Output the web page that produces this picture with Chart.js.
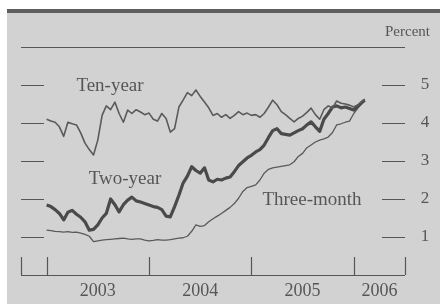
<!DOCTYPE html>
<html>
<head>
<meta charset="utf-8">
<script src="https://cdn.jsdelivr.net/npm/chart.js"></script>
<style>
  html, body { margin: 0; padding: 0; background: #fff; }
  #wrap { position: relative; width: 440px; height: 304px; }
</style>
</head>
<body>
<div id="wrap"><canvas id="rates" width="440" height="304"></canvas></div>
<script>
// half-month dates, as fractional years
const dates = [
  2003.000, 2003.042, 2003.083, 2003.125, 2003.167, 2003.208, 2003.250, 2003.292, 2003.333, 2003.375, 2003.417, 2003.458,
  2003.500, 2003.542, 2003.583, 2003.625, 2003.667, 2003.708, 2003.750, 2003.792, 2003.833, 2003.875, 2003.917, 2003.958,
  2004.000, 2004.042, 2004.083, 2004.125, 2004.167, 2004.208, 2004.250, 2004.292, 2004.333, 2004.375, 2004.417, 2004.458,
  2004.500, 2004.542, 2004.583, 2004.625, 2004.667, 2004.708, 2004.750, 2004.792, 2004.833, 2004.875, 2004.917, 2004.958,
  2005.000, 2005.042, 2005.083, 2005.125, 2005.167, 2005.208, 2005.250, 2005.292, 2005.333, 2005.375, 2005.417, 2005.458,
  2005.500, 2005.542, 2005.583, 2005.625, 2005.667, 2005.708, 2005.750, 2005.792, 2005.833, 2005.875, 2005.917, 2005.958,
  2006.000, 2006.042, 2006.083, 2006.107
];

const tenYear = [
  4.10, 4.05, 4.02, 3.90, 3.65, 4.02, 3.98, 3.95, 3.74, 3.47, 3.30, 3.16,
  3.55, 4.20, 4.45, 4.35, 4.55, 4.25, 4.02, 4.34, 4.25, 4.35, 4.29, 4.22,
  4.26, 4.10, 4.05, 4.25, 4.12, 3.76, 3.85, 4.42, 4.60, 4.80, 4.72, 4.87,
  4.70, 4.55, 4.40, 4.20, 4.25, 4.15, 4.22, 4.12, 4.20, 4.30, 4.22, 4.26,
  4.20, 4.22, 4.15, 4.25, 4.42, 4.60, 4.48, 4.30, 4.22, 4.12, 4.03, 4.12,
  4.18, 4.28, 4.39, 4.22, 4.10, 4.35, 4.45, 4.40, 4.58, 4.52, 4.50, 4.47,
  4.42, 4.48, 4.58, 4.63
];

const twoYear = [
  1.84, 1.80, 1.72, 1.62, 1.45, 1.65, 1.70, 1.60, 1.52, 1.40, 1.18, 1.20,
  1.32, 1.50, 1.62, 2.00, 1.85, 1.66, 1.85, 1.97, 2.05, 1.95, 1.92, 1.88,
  1.84, 1.80, 1.78, 1.72, 1.55, 1.53, 1.80, 2.10, 2.42, 2.60, 2.85, 2.75,
  2.68, 2.82, 2.50, 2.45, 2.52, 2.50, 2.55, 2.58, 2.72, 2.88, 2.98, 3.08,
  3.15, 3.24, 3.30, 3.42, 3.62, 3.80, 3.85, 3.72, 3.70, 3.68, 3.74, 3.80,
  3.85, 3.95, 4.03, 3.90, 3.78, 4.10, 4.25, 4.42, 4.45, 4.40, 4.42, 4.38,
  4.34, 4.45, 4.55, 4.60
];

const threeMonth = [
  1.18, 1.17, 1.15, 1.14, 1.13, 1.14, 1.12, 1.13, 1.10, 1.07, 1.02, 0.88,
  0.90, 0.92, 0.93, 0.94, 0.95, 0.96, 0.97, 0.95, 0.94, 0.95, 0.95, 0.92,
  0.90, 0.91, 0.93, 0.92, 0.92, 0.93, 0.95, 0.97, 0.98, 1.02, 1.15, 1.32,
  1.28, 1.30, 1.40, 1.48, 1.55, 1.62, 1.70, 1.78, 1.88, 2.02, 2.20, 2.30,
  2.33, 2.37, 2.50, 2.68, 2.78, 2.82, 2.84, 2.86, 2.88, 2.90, 2.98, 3.12,
  3.20, 3.35, 3.42, 3.50, 3.55, 3.58, 3.63, 3.75, 3.95, 3.98, 4.02, 4.05,
  4.25, 4.40, 4.52, 4.58
];

const yTicks = [1, 2, 3, 4, 5];
const yearBounds = [2002.75, 2003, 2004, 2005, 2006, 2006.5];
const yearLabels = ['2003', '2004', '2005', '2006'];

const ink = '#565656';
const serif = '"Liberation Serif", "DejaVu Serif", serif';

const toPoints = vals => dates.map((d, i) => ({ x: d, y: vals[i] }));

const framePlugin = {
  id: 'frame',
  beforeDraw(chart) {
    const c = chart.ctx;
    c.save();
    c.fillStyle = '#fff';
    c.fillRect(0, 0, chart.width, chart.height);
    c.fillStyle = '#d2d2d2';
    c.fillRect(7, 9, chart.width - 7, chart.height - 9);
    // dark band at the top
    c.fillStyle = '#5e5e5e';
    c.fillRect(7, 9, chart.width - 7, 4);
    c.restore();
  },
  beforeDatasetsDraw(chart) {
    const c = chart.ctx;
    const xs = chart.scales.x, ys = chart.scales.y;
    const left = xs.getPixelForValue(yearBounds[0]);
    const right = xs.getPixelForValue(yearBounds[yearBounds.length - 1]);
    const bottom = ys.getPixelForValue(0);
    const top = ys.getPixelForValue(6);
    c.save();
    c.strokeStyle = ink;
    c.lineWidth = 1.2;
    c.beginPath();
    c.moveTo(left, Math.round(top) + 0.5);
    c.lineTo(right, Math.round(top) + 0.5);
    c.moveTo(left, Math.round(bottom) + 0.5);
    c.lineTo(right, Math.round(bottom) + 0.5);
    yearBounds.forEach(b => {
      const px = Math.round(xs.getPixelForValue(b)) + 0.5;
      c.moveTo(px, bottom);
      c.lineTo(px, bottom - 18);
    });
    yTicks.forEach(v => {
      const py = Math.round(ys.getPixelForValue(v)) + 0.5;
      c.moveTo(left, py);
      c.lineTo(left + 23, py);
      c.moveTo(right - 23, py);
      c.lineTo(right, py);
    });
    c.stroke();

    c.fillStyle = ink;
    c.textAlign = 'center';
    c.textBaseline = 'middle';
    c.font = '17px ' + serif;
    yTicks.forEach(v => c.fillText(String(v), 425, ys.getPixelForValue(v)));

    c.font = '18px ' + serif;
    yearLabels.forEach((t, i) => {
      const mid = (xs.getPixelForValue(yearBounds[i + 1]) + xs.getPixelForValue(yearBounds[i + 2])) / 2;
      c.fillText(t, mid, 291);
    });

    c.textAlign = 'right';
    c.textBaseline = 'alphabetic';
    c.font = '15px ' + serif;
    c.fillText('Percent', 430, 36);

    c.textAlign = 'center';
    c.font = '19px ' + serif;
    c.fillText('Ten-year', 110, 91);
    c.fillText('Two-year', 125, 184);
    c.fillText('Three-month', 312, 205);
    c.restore();
  }
};

new Chart(document.getElementById('rates'), {
  type: 'line',
  data: {
    datasets: [
      { label: 'Ten-year', data: toPoints(tenYear), borderColor: '#5a5a5a', borderWidth: 1.6 },
      { label: 'Two-year', data: toPoints(twoYear), borderColor: '#4a4a4a', borderWidth: 3.2 },
      { label: 'Three-month', data: toPoints(threeMonth), borderColor: '#5a5a5a', borderWidth: 1.3 }
    ]
  },
  options: {
    responsive: false,
    animation: false,
    layout: { padding: { left: 21, right: 35, top: 47, bottom: 29 } },
    elements: { point: { radius: 0 }, line: { tension: 0, borderJoinStyle: 'round' } },
    plugins: { legend: { display: false }, tooltip: { enabled: false } },
    scales: {
      x: { type: 'linear', min: 2002.75, max: 2006.5, display: false },
      y: { min: 0, max: 6, display: false }
    }
  },
  plugins: [framePlugin]
});
</script>
</body>
</html>
